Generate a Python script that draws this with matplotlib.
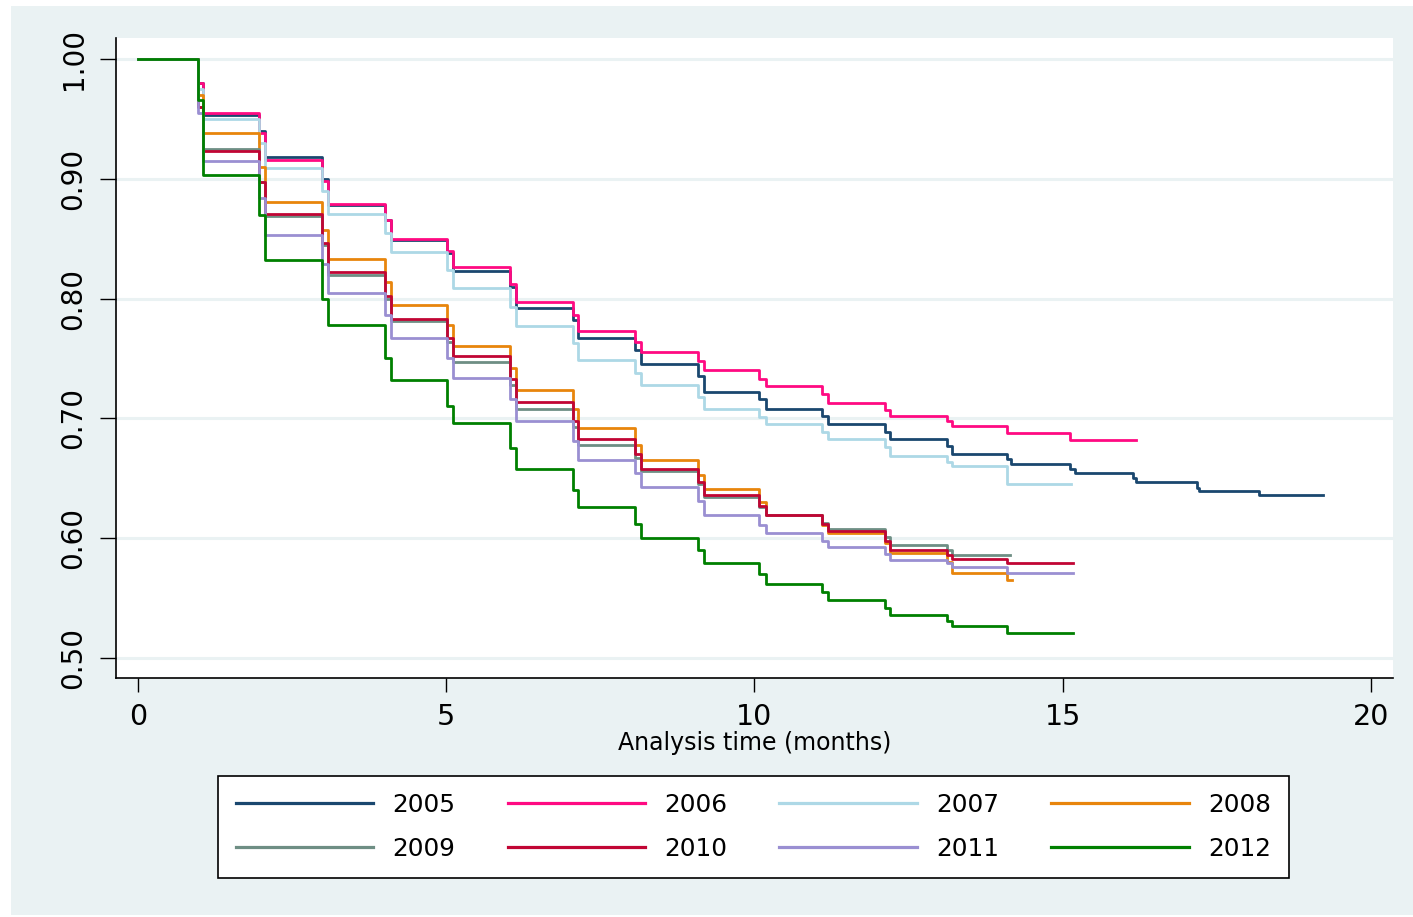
import matplotlib
matplotlib.use('Agg')
import matplotlib.pyplot as plt
from matplotlib.patches import Rectangle

# Event times (months) shared by all cohorts: start, then two sub-steps per monthly drop
event_times = [0.0,
               0.97, 1.05, 1.97, 2.06, 2.98, 3.08, 4.00, 4.10,
               5.02, 5.11, 6.04, 6.13, 7.05, 7.14, 8.06, 8.16,
               9.08, 9.18, 10.08, 10.19, 11.10, 11.20, 12.12, 12.20,
               13.12, 13.20, 14.10, 14.17, 15.12, 15.20, 16.15, 16.19,
               17.18, 17.22, 18.18, 18.20]

years = ['2005', '2006', '2007', '2008', '2009', '2010', '2011', '2012']

surv_2005 = [1.0, 0.980, 0.953, 0.940, 0.918, 0.900, 0.878, 0.866, 0.849,
             0.838, 0.823, 0.810, 0.792, 0.782, 0.767, 0.757, 0.745,
             0.735, 0.722, 0.716, 0.708, 0.702, 0.695, 0.689, 0.683,
             0.677, 0.670, 0.666, 0.662, 0.658, 0.654, 0.650, 0.647,
             0.642, 0.639, 0.636, 0.636]
surv_2006 = [1.0, 0.980, 0.955, 0.938, 0.916, 0.898, 0.879, 0.866, 0.850,
             0.840, 0.826, 0.812, 0.797, 0.786, 0.773, 0.764, 0.755,
             0.748, 0.740, 0.733, 0.727, 0.720, 0.713, 0.707, 0.702,
             0.698, 0.694, 0.688, 0.688, 0.682, 0.682]
surv_2007 = [1.0, 0.975, 0.950, 0.930, 0.909, 0.890, 0.871, 0.855, 0.839,
             0.824, 0.809, 0.793, 0.777, 0.763, 0.749, 0.738, 0.728,
             0.718, 0.708, 0.701, 0.695, 0.689, 0.683, 0.676, 0.669,
             0.664, 0.660, 0.645, 0.645]
surv_2008 = [1.0, 0.970, 0.938, 0.910, 0.881, 0.857, 0.833, 0.814, 0.795,
             0.778, 0.760, 0.742, 0.724, 0.708, 0.692, 0.678, 0.665,
             0.653, 0.641, 0.630, 0.619, 0.611, 0.604, 0.596, 0.588,
             0.580, 0.571, 0.565, 0.565]
surv_2009 = [1.0, 0.960, 0.925, 0.897, 0.869, 0.845, 0.820, 0.800, 0.781,
             0.764, 0.747, 0.728, 0.708, 0.693, 0.678, 0.667, 0.656,
             0.645, 0.634, 0.626, 0.619, 0.613, 0.608, 0.601, 0.594,
             0.590, 0.586]
surv_2010 = [1.0, 0.960, 0.923, 0.897, 0.871, 0.846, 0.822, 0.802, 0.783,
             0.767, 0.752, 0.733, 0.714, 0.698, 0.683, 0.670, 0.658,
             0.647, 0.636, 0.627, 0.619, 0.612, 0.606, 0.598, 0.590,
             0.586, 0.583, 0.579, 0.579]
surv_2011 = [1.0, 0.955, 0.915, 0.884, 0.853, 0.829, 0.805, 0.786, 0.767,
             0.750, 0.734, 0.716, 0.698, 0.681, 0.665, 0.654, 0.643,
             0.631, 0.619, 0.611, 0.604, 0.598, 0.593, 0.587, 0.582,
             0.579, 0.576, 0.571, 0.571]
surv_2012 = [1.0, 0.966, 0.903, 0.870, 0.832, 0.800, 0.778, 0.750, 0.732,
             0.710, 0.696, 0.675, 0.658, 0.640, 0.626, 0.612, 0.600,
             0.590, 0.579, 0.570, 0.562, 0.555, 0.548, 0.542, 0.536,
             0.531, 0.527, 0.521, 0.521]

# last follow-up time of each cohort
end_times = [19.22, 16.19, 15.14, 14.18, 14.14, 15.17, 15.17, 15.17]

colors = ['#1A476F', '#FF0A82', '#ADD8E6', '#E8850C',
          '#6E8E84', '#C10534', '#9A8FD2', '#008000']

all_surv = [surv_2005, surv_2006, surv_2007, surv_2008,
            surv_2009, surv_2010, surv_2011, surv_2012]

fig = plt.figure(figsize=(14.13, 9.17), dpi=100)
fig.patch.set_facecolor('white')
# Stata-style outer panel, kept behind the axes
fig.patches.append(Rectangle((11 / 1413, 2 / 917), 1 - 11 / 1413, 909 / 917,
                             transform=fig.transFigure, facecolor='#EAF2F3',
                             edgecolor='none', zorder=-10))

ax = fig.add_axes([116 / 1413, 1 - 678 / 917, (1393 - 116) / 1413, (678 - 38) / 917])
ax.set_facecolor('white')

handles = []
for yr, surv, tend, col in zip(years, all_surv, end_times, colors):
    t = event_times[:len(surv)] + [tend]
    s = surv + [surv[-1]]
    ln, = ax.plot(t, s, drawstyle='steps-post', color=col, lw=2.0, label=yr, zorder=3)
    handles.append(ln)

ax.set_xlim(-0.357, 20.36)
ax.set_ylim(0.4833, 1.0175)
ax.set_xticks([0, 5, 10, 15, 20])
ax.set_yticks([0.5, 0.6, 0.7, 0.8, 0.9, 1.0])
ax.set_yticklabels(['0.50', '0.60', '0.70', '0.80', '0.90', '1.00'])
for lab in ax.get_yticklabels():
    lab.set_rotation(90)
    lab.set_va('center')

ax.grid(axis='y', color='#EAF2F3', lw=2.2, zorder=1)
ax.set_axisbelow(True)

for side in ['top', 'right']:
    ax.spines[side].set_visible(False)
for side in ['left', 'bottom']:
    ax.spines[side].set_linewidth(1.2)
    ax.spines[side].set_color('black')

ax.tick_params(axis='x', length=10, width=1.0, pad=8, labelsize=20.5)
ax.tick_params(axis='y', length=11.5, width=1.0, pad=9, labelsize=20)

ax.set_xlabel('Analysis time (months)', fontsize=17, labelpad=0)

# legend filled row by row like the original
order = [0, 4, 1, 5, 2, 6, 3, 7]
leg = fig.legend([handles[i] for i in order], [years[i] for i in order],
                 ncol=4, loc='center', bbox_to_anchor=(753.5 / 1413, 1 - 827 / 917),
                 fontsize=17.8, frameon=True, fancybox=False, edgecolor='black',
                 facecolor='white', framealpha=1.0,
                 handlelength=5.55, handletextpad=0.8, columnspacing=2.1,
                 labelspacing=0.8, borderpad=0.7)
leg.get_frame().set_linewidth(1.2)
for h in leg.get_lines():
    h.set_linewidth(2.3)

fig.savefig('out.png', dpi=100, facecolor=fig.get_facecolor())
